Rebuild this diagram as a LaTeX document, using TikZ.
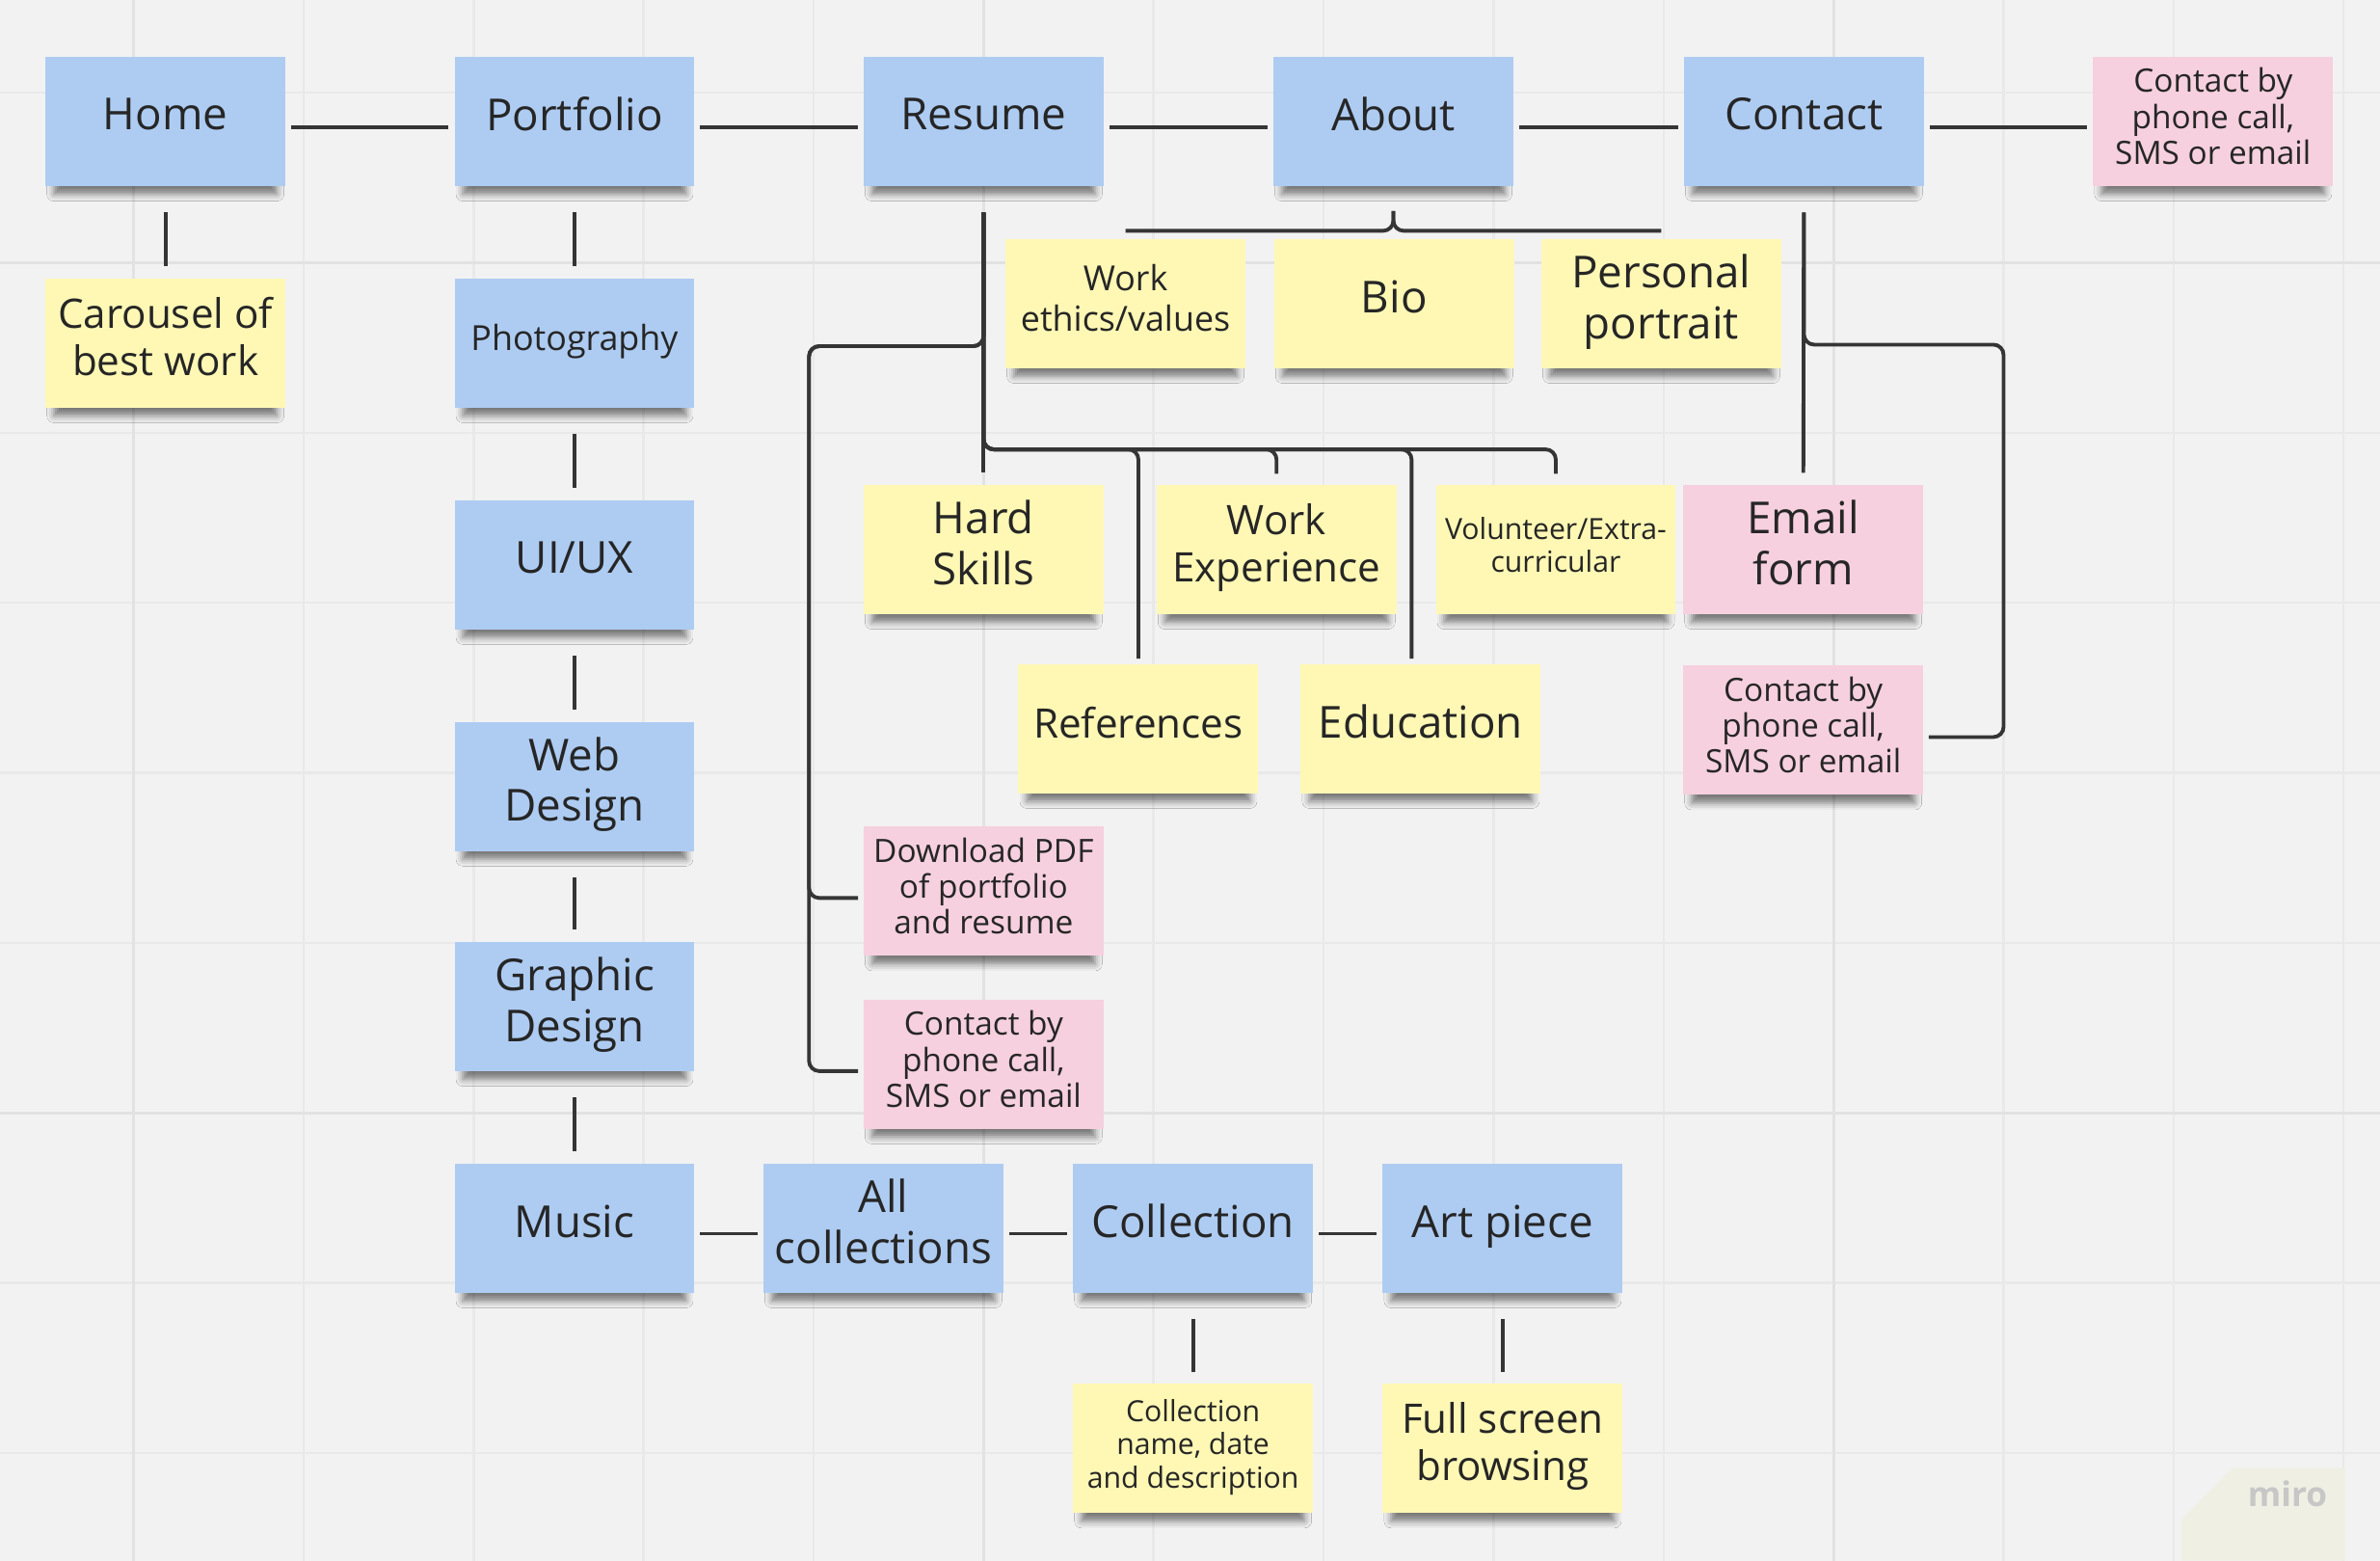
\documentclass[tikz,border=0pt]{standalone}
\usepackage{fontspec}
\setmainfont{Open Sans}
\usetikzlibrary{calc, shadows.blur}

\definecolor{board}{HTML}{F2F2F2}
\definecolor{gridln}{HTML}{E9E9E9}
\definecolor{gridmaj}{HTML}{E2E2E2}
\definecolor{noteblue}{HTML}{AECCF2}
\definecolor{noteyellow}{HTML}{FFF8B5}
\definecolor{notepink}{HTML}{F6D0DE}
\definecolor{linkgray}{HTML}{353535}
\definecolor{wmark}{HTML}{EFEFE3}

\tikzset{
  note/.style={
    rectangle, minimum width=2.49cm, minimum height=1.34cm,
    inner sep=2pt, align=center, text=black!85,
    execute at end node={\rule[-0.33em]{0pt}{0pt}},
    blur shadow={shadow xshift=0pt, shadow yshift=-4pt,
                 shadow scale=0.93, shadow opacity=50,
                 shadow blur radius=2.2pt},
  },
  page/.style={note, fill=noteblue},
  idea/.style={note, fill=noteyellow},
  action/.style={note, fill=notepink},
  fbig/.style={font=\fontsize{13}{15}\selectfont},
  fmid/.style={font=\fontsize{12}{14}\selectfont},
  fsmall/.style={font=\fontsize{10.2}{11.8}\selectfont},
  ftiny/.style={font=\fontsize{9.5}{10.6}\selectfont},
  fmini/.style={font=\fontsize{8.6}{9.8}\selectfont},
  link/.style={draw=linkgray, line width=1.1pt, rounded corners=3pt},
  gapv/.style={shorten <=7.6pt, shorten >=3.4pt},
  gaph/.style={shorten <=1.5pt, shorten >=1.6pt, transform canvas={yshift=-1.6pt}},
}

\begin{document}
\begin{tikzpicture}[x=0.015746cm, y=-0.015746cm]

  % board and grid
  \fill[board] (0,0) rectangle (1568,1028);
  \useasboundingbox (0,0) rectangle (1568,1028);
  \foreach \i in {0,...,13}
    \draw[gridln, line width=0.7pt] (88+112*\i,0) -- (88+112*\i,1028);
  \foreach \j in {0,...,8}
    \draw[gridln, line width=0.7pt] (0,61+112*\j) -- (1568,61+112*\j);
  \foreach \g in {88,648,1208}
    \draw[gridmaj, line width=0.8pt] (\g,0) -- (\g,1028);
  \foreach \g in {173,733}
    \draw[gridmaj, line width=0.8pt] (0,\g) -- (1568,\g);

  % top row
  \node[page, fbig] (home) at (109,80) {Home};
  \node[page, fbig] (portfolio) at (378.5,80) {Portfolio};
  \node[page, fbig] (resume) at (648,80) {Resume};
  \node[page, fbig] (about) at (918,80) {About};
  \node[page, fbig] (contact) at (1188.5,80) {Contact};
  \node[action, ftiny] (cbyA) at (1458,80) {Contact by\\phone call,\\SMS or email};

  % portfolio branch
  \node[idea, fmid] (carousel) at (109,226) {Carousel of\\best work};
  \node[page, fsmall] (photo) at (378.5,226) {Photography};
  \node[page, fbig] (uiux) at (378.5,372) {UI/UX};
  \node[page, fbig] (web) at (378.5,518) {Web\\Design};
  \node[page, fbig] (graphic) at (378.5,663) {Graphic\\Design};
  \node[page, fbig] (music) at (378.5,809) {Music};
  \node[page, fbig] (allcol) at (582,809) {All\\collections};
  \node[page, fbig] (collection) at (786,809) {Collection};
  \node[page, fbig] (artpiece) at (990,809) {Art piece};
  \node[idea, fmini] (colinfo) at (786,954) {Collection\\name, date\\and description};
  \node[idea, fmid] (fullscreen) at (990,954) {Full screen\\browsing};

  % about branch
  \node[idea, fsmall] (ethics) at (741.5,200) {Work\\ethics/values};
  \node[idea, fbig] (bio) at (918.5,200) {Bio};
  \node[idea, fbig] (portrait) at (1094.5,200) {Personal\\portrait};

  % resume and contact branch
  \node[idea, fbig] (hard) at (648,362) {Hard\\Skills};
  \node[idea, fmid] (workexp) at (841,362) {Work\\Experience};
  \node[idea, fmini] (volunteer) at (1025,362) {Volunteer/Extra-\\curricular};
  \node[action, fbig] (email) at (1188,362) {Email\\form};
  \node[idea, fmid] (refs) at (750,480) {References};
  \node[idea, fbig] (edu) at (936,480) {Education};
  \node[action, ftiny] (cbyC) at (1188,481) {Contact by\\phone call,\\SMS or email};
  \node[action, ftiny] (pdf) at (648,587) {Download PDF\\of portfolio\\and resume};
  \node[action, ftiny] (cbyR) at (648,701) {Contact by\\phone call,\\SMS or email};

  \coordinate (lbar) at (533,228);
  \coordinate (rbar) at (700,296);
  \coordinate (abar) at (918,152);
  \coordinate (cbar) at (1320,227);

  % links
  \draw[link, gaph] (home) -- (portfolio);
  \draw[link, gaph] (portfolio) -- (resume);
  \draw[link, gaph] (resume) -- (about);
  \draw[link, gaph] (about) -- (contact);
  \draw[link, gaph] (contact) -- (cbyA);
  \draw[link, gapv] (home) -- (carousel);
  \foreach \a/\b in {portfolio/photo, photo/uiux, uiux/web, web/graphic, graphic/music}
    \draw[link, gapv] (\a) -- (\b);
  \draw[link, gaph] (music) -- (allcol);
  \draw[link, gaph] (allcol) -- (collection);
  \draw[link, gaph] (collection) -- (artpiece);
  \draw[link, gapv] (collection) -- (colinfo);
  \draw[link, gapv] (artpiece) -- (fullscreen);

  \draw[link, gapv] (resume) -- (hard);
  \draw[link, shorten <=7.6pt, shorten >=1.4pt] (resume.south) |- (lbar) |- ([yshift=-2pt]pdf.west);
  \draw[link, shorten <=7.6pt, shorten >=1.4pt] (resume.south) |- (lbar) |- ([yshift=-2pt]cbyR.west);
  \draw[link, shorten <=7.6pt, shorten >=1.4pt] (resume.south) |- (refs.north |- rbar) -- (refs.north);
  \draw[link, shorten <=7.6pt, shorten >=3.1pt] (resume.south) |- (workexp.north |- rbar) -- (workexp.north);
  \draw[link, shorten <=7.6pt, shorten >=1.4pt] (resume.south) |- ([xshift=-2.7pt]edu.north |- rbar) -- ([xshift=-2.7pt]edu.north);
  \draw[link, shorten <=7.6pt, shorten >=3.1pt] (resume.south) |- (volunteer.north |- rbar) -- (volunteer.north);

  \draw[link, shorten >=7.2pt] (ethics.north |- abar) -- (abar) -- (about.south);
  \draw[link, shorten >=7.2pt] (portrait.north |- abar) -- (abar) -- (about.south);

  \draw[link, gapv] (contact) -- (email);
  \draw[link, shorten <=7.6pt, shorten >=1.4pt] (contact.south) |- (cbar) |- ([yshift=-2pt]cbyC.east);

  % watermark
  \fill[wmark] (1437,1028) -- (1437,1001) -- (1471,967) -- (1545,967) -- (1545,1028) -- cycle;
  \node[text=black!22, font=\bfseries\fontsize{10}{12}\selectfont] (miro) at (1507,984) {miro};

\end{tikzpicture}
\end{document}
